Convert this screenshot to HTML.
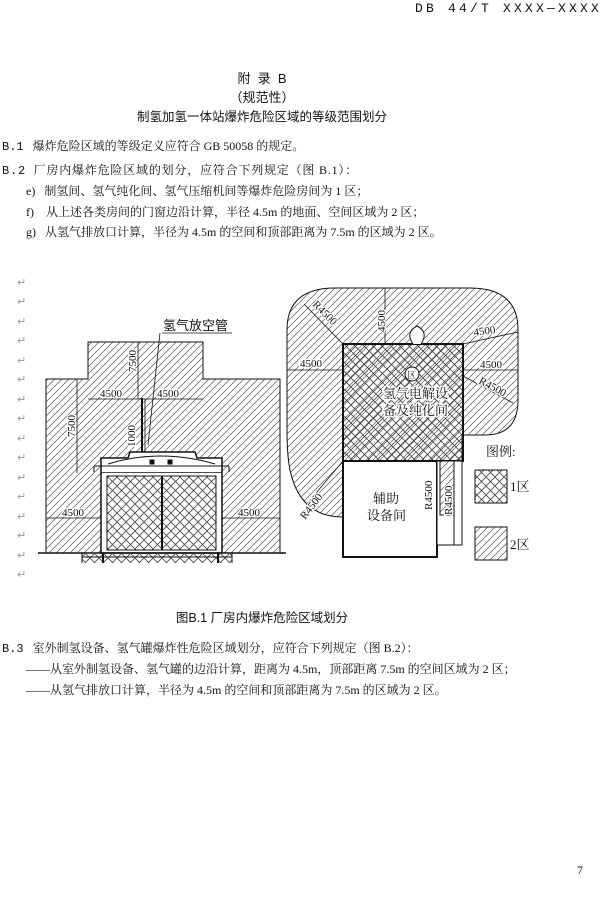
<!DOCTYPE html>
<html><head><meta charset="utf-8"><style>
body{margin:0;width:600px;height:903px;background:#fff;position:relative;overflow:hidden;font-family:"Liberation Serif","Noto Serif CJK SC",serif;color:#111}
.t{position:absolute;white-space:nowrap;font-size:12px;line-height:16px}
.s{font-family:"Liberation Sans","Noto Sans CJK SC",sans-serif}
.m{font-family:"Liberation Mono","Noto Sans CJK SC",monospace}
.c{left:0;width:524px;text-align:center}
.r{position:absolute;left:17px;font-size:11px;color:#999;font-family:"DejaVu Sans",sans-serif}
</style></head><body>
<div class="t m" style="left:415px;top:1px;font-size:13px;letter-spacing:3.2px">DB 44/T XXXX—XXXX</div>
<div class="t s c" style="top:71px;font-size:13px">附&nbsp;&nbsp;录&nbsp;&nbsp;B</div>
<div class="t s c" style="top:90px;font-size:13px">（规范性）</div>
<div class="t s c" style="top:109px;font-size:12.5px">制氢加氢一体站爆炸危险区域的等级范围划分</div>
<div class="t" style="left:2px;top:138px"><span class="m">B.1</span>&nbsp;&nbsp;&nbsp;爆炸危险区域的等级定义应符合 GB 50058 的规定。</div>
<div class="t" style="left:2px;top:162px;letter-spacing:0.8px"><span class="m">B.2</span>&nbsp;&nbsp;厂房内爆炸危险区域的划分，应符合下列规定（图 B.1）：</div>
<div class="t" style="left:26px;top:183px">e)&nbsp;&nbsp;&nbsp;制氢间、氢气纯化间、氢气压缩机间等爆炸危险房间为 1 区；</div>
<div class="t" style="left:26px;top:204px">f)&nbsp;&nbsp;&nbsp;&nbsp;从上述各类房间的门窗边沿计算，半径 4.5m 的地面、空间区域为 2 区；</div>
<div class="t" style="left:26px;top:224px">g)&nbsp;&nbsp;&nbsp;从氢气排放口计算，半径为 4.5m 的空间和顶部距离为 7.5m 的区域为 2 区。</div>
<div class="r" style="top:276px">↵</div><div class="r" style="top:295px">↵</div><div class="r" style="top:315px">↵</div><div class="r" style="top:334px">↵</div><div class="r" style="top:354px">↵</div><div class="r" style="top:373px">↵</div><div class="r" style="top:393px">↵</div><div class="r" style="top:412px">↵</div><div class="r" style="top:432px">↵</div><div class="r" style="top:451px">↵</div><div class="r" style="top:471px">↵</div><div class="r" style="top:490px">↵</div><div class="r" style="top:510px">↵</div><div class="r" style="top:529px">↵</div><div class="r" style="top:549px">↵</div><div class="r" style="top:568px">↵</div>
<svg style="position:absolute;left:0;top:0" width="600" height="903" viewBox="0 0 600 903">
<defs>
<pattern id="h" width="7" height="7" patternUnits="userSpaceOnUse"><path d="M-1,8 L8,-1 M-1,1 L1,-1 M6,8 L8,6" stroke="#555" stroke-width="0.7"/></pattern>
<pattern id="x" width="9" height="9" patternUnits="userSpaceOnUse"><path d="M0,0 L9,9 M9,0 L0,9" stroke="#444" stroke-width="0.8"/></pattern>
</defs>
<g stroke="#111" fill="none" stroke-width="1">
<path d="M88,342 H203 V379 H280 V553 H46 V379 H88 Z" fill="url(#h)"/>
<rect x="101" y="472" width="121" height="81" fill="#fff" stroke-width="1.5"/>
<rect x="107" y="476" width="109" height="74" fill="url(#x)"/>
<line x1="162" y1="476" x2="162" y2="550" stroke-width="2"/>
<path d="M101,472 V458 H128 L130,452 H195 L197,458 H222 V472" fill="#fff" stroke-width="1.5"/>
<path d="M94,466 H229 M94,466 V472 M229,466 V472" />
<path d="M108,464 Q160,448 215,464"/>
<rect x="150" y="460" width="4" height="4" fill="#111"/><rect x="168" y="460" width="4" height="4" fill="#111"/>
<line x1="38" y1="553" x2="286" y2="553" stroke-width="1.5"/>
<rect x="82" y="553" width="150" height="10" fill="url(#x)" stroke="none"/>
<path d="M82,557 H232 M82,553 V563 M232,553 V563"/>
<path d="M103,553 V563 M218,553 V563" stroke-width="2"/>
<line x1="142" y1="398" x2="142" y2="452" stroke-width="2"/>
<line x1="88" y1="399" x2="203" y2="399" stroke-width="0.8"/>
<line x1="138" y1="342" x2="138" y2="399" stroke-width="0.8"/>
<line x1="77" y1="379" x2="77" y2="473" stroke-width="0.8"/>
<line x1="145" y1="399" x2="145" y2="452" stroke-width="0.8"/>
<line x1="46" y1="518" x2="101" y2="518" stroke-width="0.8"/>
<line x1="222" y1="518" x2="280" y2="518" stroke-width="0.8"/>
<line x1="160" y1="333" x2="148" y2="445" stroke-width="0.8"/>
<line x1="162" y1="333" x2="232" y2="333" stroke-width="0.8"/>
<path d="M335,288 H470 Q518,288 518,330 V400 Q518,435 485,435 H462 V461 H343 V517 Q300,517 290,470 Q287,455 287,430 V330 Q287,288 335,288 Z" fill="url(#h)"/>
<rect x="343" y="344" width="120" height="117" fill="url(#x)" stroke-width="2"/>
<rect x="343" y="461" width="94" height="96" fill="#fff" stroke-width="2"/>
<rect x="437" y="461" width="25" height="84" fill="#fff"/>
<rect x="440" y="461" width="14" height="54" fill="url(#h)"/>
<line x1="454" y1="461" x2="454" y2="545"/>
<path d="M413,344 Q405,332 417,326 Q429,332 421,344" fill="#fff"/>
<line x1="287" y1="370" x2="343" y2="370" stroke-width="0.8"/>
<line x1="463" y1="370" x2="518" y2="370" stroke-width="0.8"/>
<line x1="385" y1="288" x2="385" y2="344" stroke-width="0.8"/>
<line x1="463" y1="344" x2="518" y2="332" stroke-width="0.8"/>
<line x1="463" y1="376" x2="513" y2="403" stroke-width="0.8"/>
<line x1="343" y1="344" x2="304" y2="304" stroke-width="0.8"/>
<line x1="343" y1="461" x2="306" y2="505" stroke-width="0.8"/>
<circle cx="412" cy="374" r="7" fill="#fff"/>
<rect x="475" y="470" width="32" height="33" fill="url(#x)"/>
<rect x="475" y="527" width="32" height="33" fill="url(#h)"/>
</g>
<g font-family="Liberation Serif,Noto Serif CJK SC,serif" font-size="11" fill="#111" stroke="#fff" stroke-width="2.5" paint-order="stroke" stroke-linejoin="round">
<text x="163" y="330" font-size="13" font-family="Liberation Sans,Noto Sans CJK SC,sans-serif" stroke="none">氢气放空管</text>
<text x="100" y="397">4500</text><text x="157" y="397">4500</text>
<text transform="translate(136,372) rotate(-90)">7500</text>
<text transform="translate(75,437) rotate(-90)">7500</text>
<text transform="translate(135,447) rotate(-90)">1000</text>
<text x="62" y="516">4500</text><text x="238" y="516">4500</text>
<text transform="translate(312,305) rotate(45)">R4500</text>
<text transform="translate(385,332) rotate(-90)">4500</text>
<text x="474" y="336" transform="rotate(-8 474 336)">4500</text>
<text x="300" y="367">4500</text><text x="480" y="368">4500</text>
<text transform="translate(478,383) rotate(28)">R4500</text>
<text transform="translate(305,520) rotate(-52)">R4500</text>
<text transform="translate(432,510) rotate(-90)">R4500</text>
<text transform="translate(452,515) rotate(-90)">R4500</text>
<text x="407" y="378" font-size="9" stroke="none">区</text>
<text x="383" y="398" font-size="13" stroke-width="3">氢气电解设</text>
<text x="383" y="415" font-size="13" stroke-width="3">备及纯化间</text>
<text x="373" y="503" font-size="13" stroke="none">辅助</text>
<text x="367" y="520" font-size="13" stroke="none">设备间</text>
<text x="486" y="456" font-size="13" stroke="none">图例:</text>
<text x="510" y="491" font-size="13" stroke="none">1区</text>
<text x="510" y="549" font-size="13" stroke="none">2区</text>
</g>
</svg>
<div class="t s c" style="top:610px;font-size:12.5px">图B.1 厂房内爆炸危险区域划分</div>
<div class="t" style="left:2px;top:640px"><span class="m">B.3</span>&nbsp;&nbsp;&nbsp;室外制氢设备、氢气罐爆炸性危险区域划分，应符合下列规定（图 B.2）：</div>
<div class="t" style="left:26px;top:661px">——从室外制氢设备、氢气罐的边沿计算，距离为 4.5m，顶部距离 7.5m 的空间区域为 2 区；</div>
<div class="t" style="left:26px;top:682px">——从氢气排放口计算，半径为 4.5m 的空间和顶部距离为 7.5m 的区域为 2 区。</div>
<div class="t" style="left:577px;top:862px">7</div>
</body></html>
